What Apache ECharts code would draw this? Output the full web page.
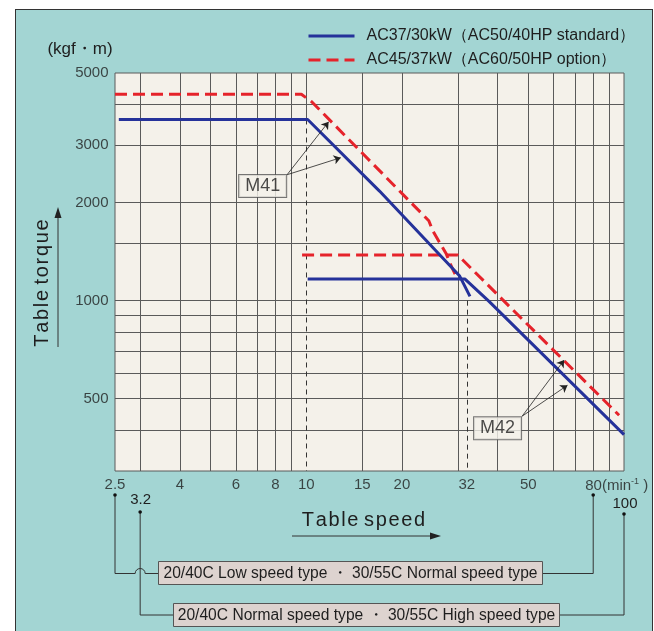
<!DOCTYPE html>
<html><head><meta charset="utf-8">
<script src="https://cdn.jsdelivr.net/npm/echarts@6/dist/echarts.min.js"></script>
<style>
html,body{margin:0;padding:0;background:#fff;}
#panel{position:absolute;left:15px;top:9px;width:638px;height:640px;background:#a3d5d3;border:1px solid #333;box-sizing:border-box;}
#chart{position:absolute;left:0;top:0;width:654px;height:631px;}
</style></head><body>
<div id="panel"></div><div id="chart"></div>
<script>
// ---------- data ----------
const BLUE_NAME = 'AC37/30kW（AC50/40HP standard）';
const RED_NAME = 'AC45/37kW（AC60/50HP option）';
const xGridValues = [3, 4, 5, 6, 7, 8, 9, 15, 20, 30, 40, 50, 60, 70, 80, 90];
const yGridValues = [400, 500, 600, 700, 800, 900, 1000, 1500, 2000, 3000, 4000];
const xTickLabels = [2.5, 4, 6, 8, 10, 15, 20, 32, 50, 80];
const yTickLabels = [500, 1000, 2000, 3000, 5000];
const blueM41 = [[2.57, 3600], [10.1, 3600], [17, 2170], [30.4, 1190], [32.75, 1031]];
const blueM42 = [[10.1, 1165], [31.6, 1165], [37.6, 995], [100, 388]];
const redM41 = [[2.5, 4300], [9.65, 4300], [10.4, 4080], [24.3, 1760], [25.0, 1640], [27.6, 1390], [28.3, 1307], [29.4, 1206]];
const redM42 = [[9.7, 1380], [30, 1380], [42, 995], [96.5, 445]];
const m41Arrows = [[[8.7, 2436], [11.76, 3542]], [[8.7, 2436], [12.84, 2748]]];
const m42Arrows = [[[47.8, 442], [64.8, 657]], [[47.8, 442], [66.4, 550]]];
const motorLabels = [['M41', 7.29, 2249], ['M42', 40, 406]];
const altSpeedLabels = [['3.2', 3], ['100', 100]];
const typeLow = '20/40C Low speed type ・ 30/55C Normal speed type';
const typeHigh = '20/40C Normal speed type ・ 30/55C High speed type';

// ---------- style ----------
const SANS = "'Liberation Sans',Arial,sans-serif";
const BLUE = '#25329a';
const RED = '#e5232b';
const GRID = '#5a5a5a';
const TXT = '#1e1e1e';

const chart = echarts.init(document.getElementById('chart'), null, {renderer: 'canvas'});

const gridLines = xGridValues.map(v => ({xAxis: v}))
  .concat(yGridValues.map(v => ({yAxis: v})))
  .concat([
    [{coord: [10, 5000]}, {coord: [10, 3600]}],
    [{coord: [10, 3600], lineStyle: {type: [5, 4], width: 1, color: '#333'}}, {coord: [10, 300]}],
    [{coord: [32, 1000], lineStyle: {type: [5, 4], width: 1, color: '#333'}}, {coord: [32, 300]}]
  ]);

const curveStyle = (color, dashed) => ({color: color, width: 3, type: dashed ? [12, 6] : 'solid'});

chart.setOption({
  animation: false,
  backgroundColor: 'transparent',
  grid: {left: 115, top: 73, right: 30, bottom: 160, show: true, backgroundColor: '#f4f1ea', borderColor: GRID, borderWidth: 1},
  legend: {
    data: [BLUE_NAME, RED_NAME], orient: 'vertical', left: 302, top: 23,
    itemWidth: 46, itemHeight: 16, itemGap: 8,
    itemStyle: {opacity: 0},
    lineStyle: {width: 3},
    textStyle: {fontFamily: SANS, fontSize: 16, color: TXT, padding: [0, 0, 0, 7]}
  },
  xAxis: {type: 'log', logBase: 10, min: 2.5, max: 100, axisLine: {show: false}, axisTick: {show: false}, axisLabel: {show: false}, splitLine: {show: false}, minorSplitLine: {show: false}},
  yAxis: {type: 'log', logBase: 10, min: 300, max: 5000, axisLine: {show: false}, axisTick: {show: false}, axisLabel: {show: false}, splitLine: {show: false}, minorSplitLine: {show: false}},
  series: [
    {
      type: 'scatter', silent: true, symbolSize: 1, itemStyle: {color: 'rgba(0,0,0,0)'},
      data: xTickLabels.map(v => v === 80 ? {value: [v, 300], label: {align: 'left', offset: [-8, 0]}} : {value: [v, 300]}),
      label: {
        show: true, position: 'bottom', distance: 6, fontFamily: SANS, fontSize: 15, color: TXT,
        formatter: p => p.value[0] === 80 ? '80(min{s|-1} )' : String(p.value[0]),
        rich: {s: {fontFamily: SANS, fontSize: 9, color: TXT, padding: [0, 0, 8, 0]}}
      },
      markLine: {silent: true, symbol: ['none', 'none'], label: {show: false}, lineStyle: {color: GRID, width: 1, type: 'solid'}, data: gridLines, z: 1}
    },
    {
      type: 'scatter', silent: true, symbolSize: 1, itemStyle: {color: 'rgba(0,0,0,0)'},
      data: yTickLabels.map(v => [2.5, v]),
      label: {show: true, position: 'left', distance: 6, fontFamily: SANS, fontSize: 15, color: TXT, formatter: p => String(p.value[1])}
    },
    {type: 'line', name: BLUE_NAME, data: blueM41, symbol: 'none', lineStyle: curveStyle(BLUE, false), itemStyle: {color: BLUE}, z: 4},
    {type: 'line', name: BLUE_NAME, data: blueM42, symbol: 'none', lineStyle: curveStyle(BLUE, false), itemStyle: {color: BLUE}, z: 4},
    {type: 'line', name: RED_NAME, data: redM41, symbol: 'none', lineStyle: curveStyle(RED, true), itemStyle: {color: RED}, z: 3},
    {type: 'line', name: RED_NAME, data: redM42, symbol: 'none', lineStyle: curveStyle(RED, true), itemStyle: {color: RED}, z: 3},
    {
      type: 'lines', coordinateSystem: 'cartesian2d', silent: true, z: 6,
      symbol: ['none', 'arrow'], symbolSize: 7,
      lineStyle: {color: '#222', width: 0.8, opacity: 1},
      data: m41Arrows.concat(m42Arrows).map(c => ({coords: c}))
    },
    {
      type: 'scatter', silent: true, symbolSize: 1, itemStyle: {color: 'rgba(0,0,0,0)'}, z: 7,
      data: motorLabels.map(m => ({name: m[0], value: [m[1], m[2]]})),
      label: {show: true, position: 'inside', formatter: '{b}', fontFamily: SANS, fontSize: 18, lineHeight: 18, color: TXT,
        backgroundColor: '#f4f1ea', borderColor: '#555', borderWidth: 1, padding: [2, 6, 2, 6]}
    }
  ]
});

// ---------- decorations outside the plot, aligned through the x scale ----------
const px = v => chart.convertToPixel({xAxisIndex: 0}, v);
const x25 = px(2.5), x3 = px(altSpeedLabels[0][1]), x80 = px(80), x100 = px(altSpeedLabels[1][1]);
const LINE = {stroke: '#333', lineWidth: 1, fill: null};
const yRow1 = 573.5, yRow2 = 615;
const box1 = {x: 158.5, y: 561.5, width: 384, height: 23};
const box2 = {x: 173.5, y: 603.5, width: 386, height: 23};
const BOXFONT = '15.6px ' + SANS;
const els = [
  {type: 'text', x: 80, y: 49, style: {text: '(kgf・m)', font: '17px ' + SANS, fill: TXT, textAlign: 'center', textVerticalAlign: 'middle'}},
  {type: 'text', x: 42, y: 283, rotation: Math.PI / 2, style: {text: 'T\u200Aa\u200Ab\u200Al\u200Ae t\u200Ao\u200Ar\u200Aq\u200Au\u200Ae', font: '20px ' + SANS, fill: TXT, textAlign: 'center', textVerticalAlign: 'middle'}},
  {type: 'polyline', shape: {points: [[58, 347], [58, 214]]}, style: LINE},
  {type: 'polygon', shape: {points: [[58, 207], [54.5, 218], [61.5, 218]]}, style: {fill: '#222'}},
  {type: 'text', x: 363.5, y: 520, style: {text: 'T\u200Aa\u200Ab\u200Al\u200Ae s\u200Ap\u200Ae\u200Ae\u200Ad', font: '20px ' + SANS, fill: TXT, textAlign: 'center', textVerticalAlign: 'middle'}},
  {type: 'polyline', shape: {points: [[292, 536], [434, 536]]}, style: LINE},
  {type: 'polygon', shape: {points: [[441, 536], [430, 532.5], [430, 539.5]]}, style: {fill: '#222'}},
  {type: 'text', x: x3 + 0.5, y: 500, style: {text: altSpeedLabels[0][0], font: '15px ' + SANS, fill: TXT, textAlign: 'center', textVerticalAlign: 'middle'}},
  {type: 'text', x: x100 + 1, y: 504, style: {text: altSpeedLabels[1][0], font: '15px ' + SANS, fill: TXT, textAlign: 'center', textVerticalAlign: 'middle'}},
  {type: 'polyline', shape: {points: [[x25, 495], [x25, yRow1], [x3 - 5, yRow1]]}, style: LINE},
  {type: 'arc', shape: {cx: x3, cy: yRow1, r: 5, startAngle: Math.PI, endAngle: 2 * Math.PI}, style: LINE},
  {type: 'polyline', shape: {points: [[x3 + 5, yRow1], [box1.x, yRow1]]}, style: LINE},
  {type: 'polyline', shape: {points: [[box1.x + box1.width, yRow1], [x80, yRow1], [x80, 495]]}, style: LINE},
  {type: 'polyline', shape: {points: [[x3, 512], [x3, yRow2], [box2.x, yRow2]]}, style: LINE},
  {type: 'polyline', shape: {points: [[box2.x + box2.width, yRow2], [x100, yRow2], [x100, 514]]}, style: LINE},
  {type: 'circle', shape: {cx: x25, cy: 495, r: 1.8}, style: {fill: '#111'}},
  {type: 'circle', shape: {cx: x80, cy: 495, r: 1.8}, style: {fill: '#111'}},
  {type: 'circle', shape: {cx: x3, cy: 512, r: 1.8}, style: {fill: '#111'}},
  {type: 'circle', shape: {cx: x100, cy: 514, r: 1.8}, style: {fill: '#111'}},
  {type: 'rect', shape: box1, style: {fill: '#ddd3cf', stroke: '#555', lineWidth: 1}},
  {type: 'text', x: box1.x + box1.width / 2, y: box1.y + box1.height / 2 + 0.5, style: {text: typeLow, font: BOXFONT, fill: TXT, textAlign: 'center', textVerticalAlign: 'middle'}},
  {type: 'rect', shape: box2, style: {fill: '#ddd3cf', stroke: '#555', lineWidth: 1}},
  {type: 'text', x: box2.x + box2.width / 2, y: box2.y + box2.height / 2 + 0.5, style: {text: typeHigh, font: BOXFONT, fill: TXT, textAlign: 'center', textVerticalAlign: 'middle'}}
];
chart.setOption({graphic: {elements: els}});
</script></body></html>
